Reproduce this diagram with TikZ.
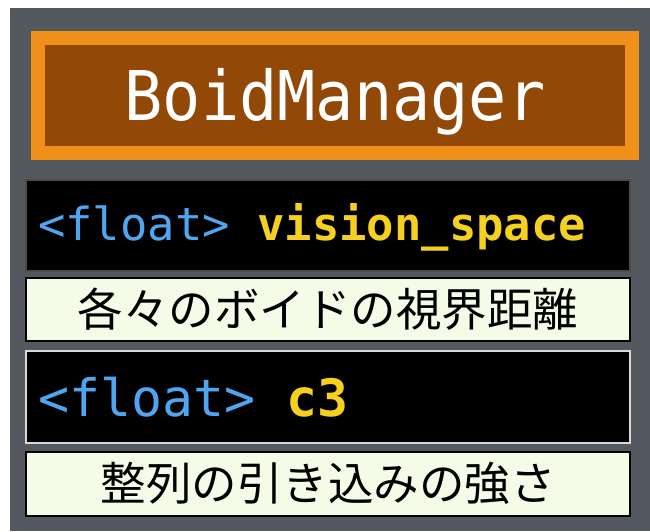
\documentclass[tikz,border=0pt]{standalone}
\usepackage{fontspec}
\usepackage{graphicx}
\newfontfamily\monofnt{DejaVu Sans Mono}
\newfontfamily\cjkfnt{Noto Sans CJK JP}
\definecolor{panelgray}{HTML}{54585F}
\definecolor{mgrorange}{HTML}{F0901A}
\definecolor{mgrbrown}{HTML}{924806}
\definecolor{typeblue}{HTML}{4FA6F0}
\definecolor{varyellow}{HTML}{F5D020}
\definecolor{creambg}{HTML}{F4FBE6}
\tikzset{
  panel/.style={fill=panelgray, draw=none, inner sep=0pt, outer sep=0pt},
  mgrbox/.style={fill=mgrbrown, draw=mgrorange, line width=14pt, inner sep=0pt},
  varbox/.style={fill=black, draw=#1, line width=1.5pt, inner sep=0pt},
  descbox/.style={fill=creambg, draw=black, line width=2pt, inner sep=0pt},
  vartext/.style={anchor=base west, inner sep=0pt, font=\monofnt},
  desctext/.style={inner sep=0pt, font=\cjkfnt\fontsize{45.5}{50}\selectfont, text=black},
}
\begin{document}
\begin{tikzpicture}[x=1pt,y=-1pt]
\useasboundingbox (0,0) rectangle (650,531);
\fill[white] (0,0) rectangle (650,531);
\node[panel, minimum width=640pt, minimum height=523pt] (bg) at (330,269.5) {};
\node[mgrbox, minimum width=594pt, minimum height=115pt] (mgr) at (335,95.5) {};
\node[anchor=base, inner sep=0pt, text=white, font=\monofnt\fontsize{63.5}{70}\selectfont] (mgrlabel) at (335,120) {\scalebox{1}[1.08]{BoidManager}};
\node[varbox=black!70, minimum width=604pt, minimum height=91pt] (v1) at (328,225.5) {};
\node[vartext, font=\monofnt\fontsize{45.5}{50}\selectfont] (v1label) at (38,240) {\textcolor{typeblue}{<float>} \textcolor{varyellow}{\bfseries vision\_space}};
\node[descbox, minimum width=604pt, minimum height=63pt] (d1) at (328,309.5) {};
\node[desctext] (d1label) at (d1.center) {各々のボイドの視界距離};
\node[varbox=white!85!black, minimum width=604pt, minimum height=92pt] (v2) at (328,397) {};
\node[vartext, font=\monofnt\fontsize{51.5}{56}\selectfont] (v2label) at (38,416) {\textcolor{typeblue}{<float>} \textcolor{varyellow}{\bfseries c3}};
\node[descbox, minimum width=604pt, minimum height=64pt] (d2) at (328,483.5) {};
\node[desctext] (d2label) at (d2.center) {整列の引き込みの強さ};
\end{tikzpicture}
\end{document}
